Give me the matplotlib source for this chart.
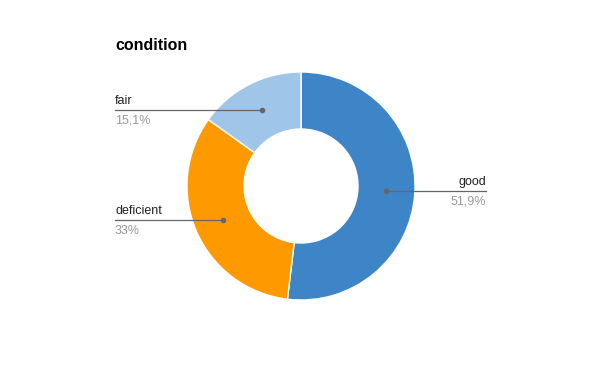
import numpy as np
import matplotlib.pyplot as plt

plt.rcParams['font.family'] = ['Liberation Sans', 'DejaVu Sans']

# Daten
kategorien = ['good', 'deficient', 'fair']
anteile = [51.9, 33.0, 15.1]
anteil_texte = ['51,9%', '33%', '15,1%']
farben = ['#3d85c6', '#ff9900', '#9fc5e8']

B, H = 600, 371
cx, cy = 301, H - 186
r_aussen, r_innen = 114, 57

fig = plt.figure(figsize=(B / 100, H / 100), dpi=100)
ax = fig.add_axes([0, 0, 1, 1])

ax.pie(anteile, colors=farben, startangle=90, counterclock=False,
       center=(cx, cy), radius=r_aussen, frame=True,
       wedgeprops=dict(width=r_aussen - r_innen, edgecolor='white', linewidth=1))
ax.set_xlim(0, B)
ax.set_ylim(0, H)
ax.set_aspect('equal')
ax.axis('off')

# Beschriftungen mit Fuehrungslinien
kumuliert = np.cumsum([0] + anteile)
r_mitte = (r_aussen + r_innen) / 2
for i, name in enumerate(kategorien):
    mitte = (kumuliert[i] + kumuliert[i + 1]) / 2 / 100 * 2 * np.pi
    px = cx + r_mitte * np.sin(mitte)
    py = cy + r_mitte * np.cos(mitte)
    if px > cx:
        x_ende, ha = 486, 'right'
    else:
        x_ende, ha = 115, 'left'
    ax.plot([px, x_ende], [py, py], color='#666666', lw=0.9)
    ax.plot(px, py, 'o', color='#666666', ms=3)
    ax.text(x_ende, py + 3, name, ha=ha, va='bottom', fontsize=9,
            color='#222222')
    ax.text(x_ende, py - 4.5, anteil_texte[i], ha=ha, va='top', fontsize=9,
            color='#999999')

fig.text(115 / B, 1 - 45 / H, 'condition', fontsize=11.5, fontweight='bold',
         va='center', ha='left', color='#000000')

fig.savefig('out.png', dpi=100, facecolor='white')
